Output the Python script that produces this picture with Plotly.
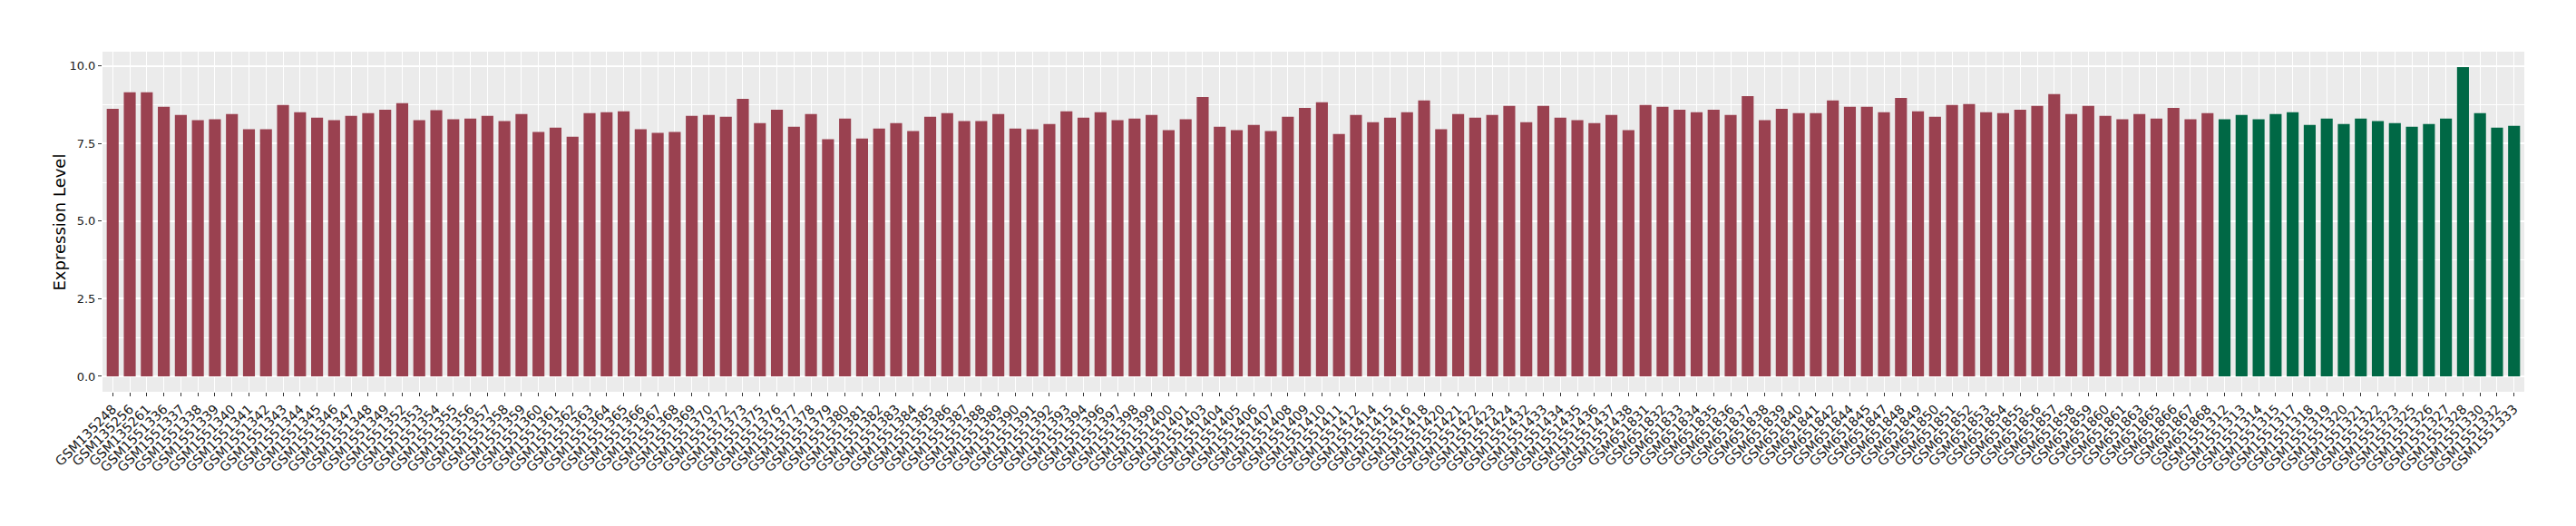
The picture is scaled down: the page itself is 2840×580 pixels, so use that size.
import plotly.graph_objects as go

red_samples = [
    "GSM135248", "GSM135256", "GSM135261",
    "GSM1551336", "GSM1551337", "GSM1551338", "GSM1551339", "GSM1551340", "GSM1551341", "GSM1551342",
    "GSM1551343", "GSM1551344", "GSM1551345", "GSM1551346", "GSM1551347", "GSM1551348", "GSM1551349",
    "GSM1551352", "GSM1551353", "GSM1551354", "GSM1551355", "GSM1551356", "GSM1551357", "GSM1551358",
    "GSM1551359", "GSM1551360", "GSM1551361", "GSM1551362", "GSM1551363", "GSM1551364", "GSM1551365",
    "GSM1551366", "GSM1551367", "GSM1551368", "GSM1551369", "GSM1551370", "GSM1551372", "GSM1551373",
    "GSM1551375", "GSM1551376", "GSM1551377", "GSM1551378", "GSM1551379", "GSM1551380", "GSM1551381",
    "GSM1551382", "GSM1551383", "GSM1551384", "GSM1551385", "GSM1551386", "GSM1551387", "GSM1551388",
    "GSM1551389", "GSM1551390", "GSM1551391", "GSM1551392", "GSM1551393", "GSM1551394", "GSM1551396",
    "GSM1551397", "GSM1551398", "GSM1551399", "GSM1551400", "GSM1551401", "GSM1551403", "GSM1551404",
    "GSM1551405", "GSM1551406", "GSM1551407", "GSM1551408", "GSM1551409", "GSM1551410", "GSM1551411",
    "GSM1551412", "GSM1551414", "GSM1551415", "GSM1551416", "GSM1551418", "GSM1551420", "GSM1551421",
    "GSM1551422", "GSM1551423", "GSM1551424", "GSM1551432", "GSM1551433", "GSM1551434", "GSM1551435",
    "GSM1551436", "GSM1551437", "GSM1551438",
    "GSM651831", "GSM651832", "GSM651833", "GSM651834", "GSM651835", "GSM651836", "GSM651837",
    "GSM651838", "GSM651839", "GSM651840", "GSM651841", "GSM651842", "GSM651844", "GSM651845",
    "GSM651847", "GSM651848", "GSM651849", "GSM651850", "GSM651851", "GSM651852", "GSM651853",
    "GSM651854", "GSM651855", "GSM651856", "GSM651857", "GSM651858", "GSM651859", "GSM651860",
    "GSM651861", "GSM651863", "GSM651865", "GSM651866", "GSM651867", "GSM651868",
]

red_values = [
    8.62, 9.15, 9.15, 8.68, 8.42, 8.25, 8.28, 8.45, 7.96, 7.96, 8.74, 8.51, 8.33, 8.25, 8.39, 8.48,
    8.59, 8.80, 8.25, 8.57, 8.28, 8.30, 8.39, 8.22,
    8.45, 7.87, 8.01, 7.72, 8.48, 8.51, 8.54, 7.96, 7.84, 7.87, 8.39, 8.42, 8.36, 8.94, 8.16, 8.59,
    8.04, 8.45, 7.64, 8.30, 7.66, 7.98, 8.16, 7.90,
    8.36, 8.48, 8.22, 8.22, 8.45, 7.98, 7.96, 8.13, 8.54, 8.33, 8.51, 8.25, 8.30, 8.42, 7.93, 8.28,
    9.00, 8.04, 7.93, 8.10, 7.90, 8.36, 8.65,
    8.83, 7.81, 8.42, 8.19, 8.33, 8.51, 8.89, 7.96, 8.45, 8.33, 8.42, 8.71, 8.19, 8.71, 8.33, 8.25,
    8.16, 8.42, 7.93, 8.74, 8.68, 8.59, 8.51, 8.59,
    8.42, 9.03, 8.25, 8.62, 8.48, 8.48, 8.89, 8.68, 8.68, 8.51, 8.97, 8.54, 8.36, 8.74, 8.77, 8.51,
    8.48, 8.59, 8.71, 9.09, 8.45, 8.71, 8.39, 8.28,
    8.45, 8.30, 8.65, 8.28, 8.48,
]

green_samples = [
    "GSM1551312", "GSM1551313", "GSM1551314", "GSM1551315", "GSM1551317", "GSM1551318",
    "GSM1551319", "GSM1551320", "GSM1551321", "GSM1551322", "GSM1551323", "GSM1551325",
    "GSM1551326", "GSM1551327", "GSM1551328", "GSM1551330", "GSM1551332", "GSM1551333",
]

green_values = [
    8.28, 8.42, 8.28, 8.45, 8.51, 8.10, 8.30, 8.13, 8.30, 8.22, 8.16, 8.04, 8.13, 8.30, 9.96,
    8.48, 8.01, 8.07,
]

y_ticks = [0, 2.5, 5, 7.5, 10]
y_tick_labels = ["0.0", "2.5", "5.0", "7.5", "10.0"]

RED = "#9A4150"
GREEN = "#006845"
FONT = "DejaVu Sans"

all_samples = red_samples + green_samples

fig = go.Figure()
fig.add_trace(go.Bar(x=red_samples, y=red_values, marker=dict(color=RED, line=dict(width=0)),
                     width=0.7, showlegend=False))
fig.add_trace(go.Bar(x=green_samples, y=green_values, marker=dict(color=GREEN, line=dict(width=0)),
                     width=0.7, showlegend=False))

ymax = max(red_values + green_values)
pad = 0.05 * ymax

# page body has an 8px margin, so the figure is offset by 8px
L, R, T, B = 105, 57, 49, 148
W, H = 2832, 572
plot_w = W - L - R

fig.update_layout(
    width=W, height=H,
    margin=dict(l=L, r=R, t=T, b=B),
    paper_bgcolor="white", plot_bgcolor="#EBEBEB",
    barmode="overlay",
    font=dict(family=FONT, color="#1a1a1a"),
    xaxis=dict(
        type="category", categoryorder="array", categoryarray=all_samples,
        tickmode="array", tickvals=all_samples, ticktext=all_samples,
        range=[-0.6, len(all_samples) - 0.4],
        showgrid=True, gridcolor="white", gridwidth=1.4,
        ticks="outside", ticklen=4, tickwidth=1, tickcolor="#333333",
        tickangle=-45, tickfont=dict(family=FONT, size=14.5, color="#1a1a1a"),
        showline=False, zeroline=False, automargin=False,
    ),
    yaxis=dict(
        range=[-pad, ymax + pad],
        tickmode="array", tickvals=y_ticks, ticktext=y_tick_labels,
        showgrid=True, gridcolor="white", gridwidth=1.6,
        minor=dict(dtick=1.25, tick0=0, showgrid=True, gridcolor="white", gridwidth=0.8, ticks=""),
        ticks="outside", ticklen=4, tickwidth=1, tickcolor="#333333",
        tickfont=dict(family=FONT, size=13, color="#1a1a1a"),
        showline=False, zeroline=False, automargin=False,
    ),
    annotations=[dict(
        text="Expression Level", xref="paper", yref="paper",
        x=(65 - 113) / plot_w, y=0.5, xanchor="center", yanchor="middle",
        textangle=-90, showarrow=False,
        font=dict(family=FONT, size=18, color="black"),
    )],
)

fig.write_html("out.html")
